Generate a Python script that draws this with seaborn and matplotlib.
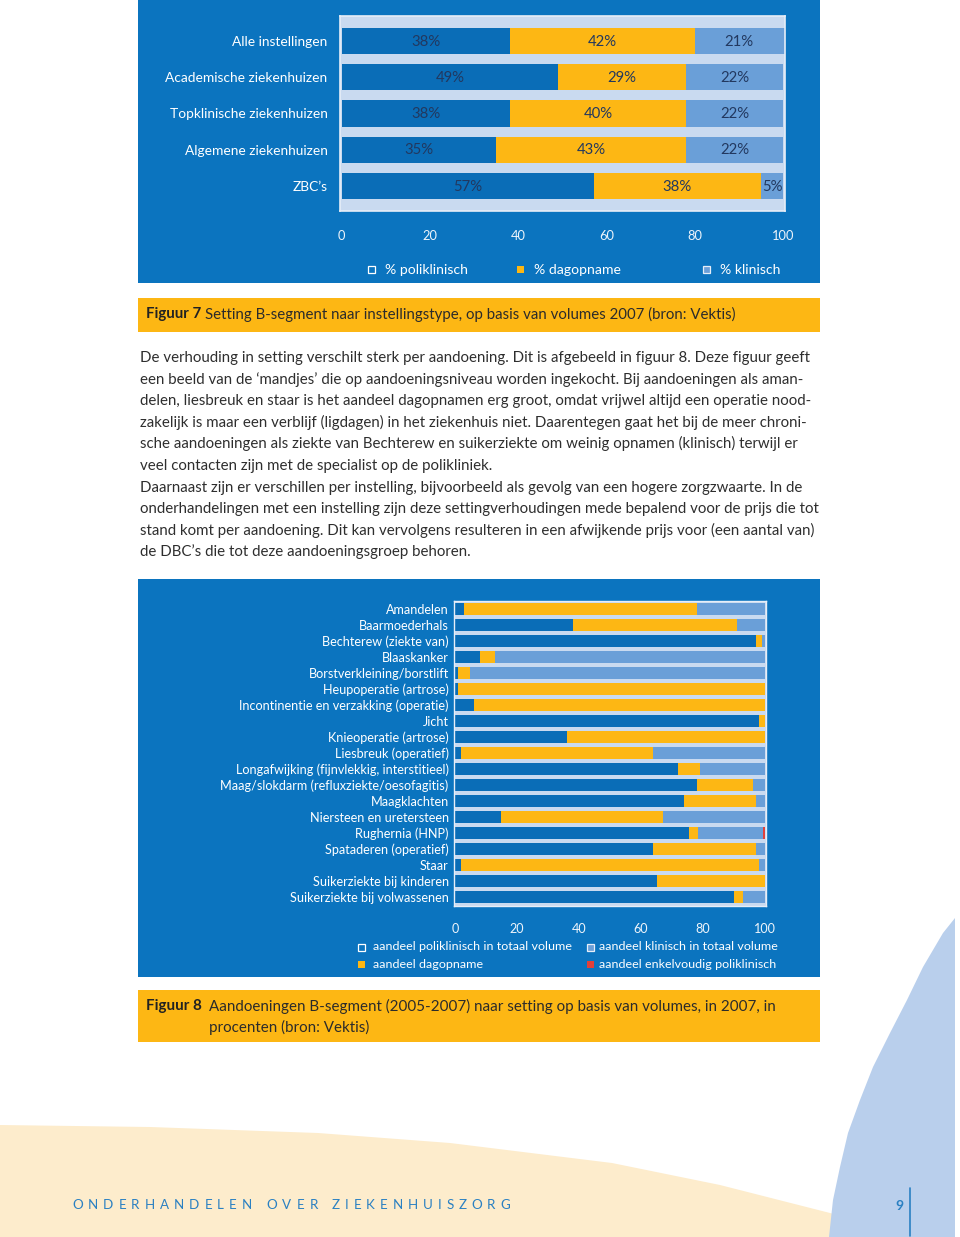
import numpy as np
import pandas as pd
import matplotlib
matplotlib.use("Agg")
import matplotlib.pyplot as plt
import seaborn as sns
from matplotlib.patches import Rectangle, Polygon

# ---------------- data ----------------
fig7_types = ["Alle instellingen", "Academische ziekenhuizen", "Topklinische ziekenhuizen",
              "Algemene ziekenhuizen", "ZBC\u2019s"]
fig7_poli = [38, 49, 38, 35, 57]
fig7_dag = [42, 29, 40, 43, 38]
fig7_klin = [21, 22, 22, 22, 5]
fig7_legend = ["% poliklinisch", "% dagopname", "% klinisch"]

fig8_cond = ["Amandelen", "Baarmoederhals", "Bechterew (ziekte van)", "Blaaskanker",
             "Borstverkleining/borstlift", "Heupoperatie (artrose)",
             "Incontinentie en verzakking (operatie)", "Jicht", "Knieoperatie (artrose)",
             "Liesbreuk (operatief)", "Longafwijking (fijnvlekkig, interstitieel)",
             "Maag/slokdarm (refluxziekte/oesofagitis)", "Maagklachten",
             "Niersteen en uretersteen", "Rughernia (HNP)", "Spataderen (operatief)",
             "Staar", "Suikerziekte bij kinderen", "Suikerziekte bij volwassenen"]
fig8_poli = [3, 38, 97, 8, 1, 1, 6, 98, 36, 2, 72, 78, 74, 15, 75.5, 64, 2, 65, 90]
fig8_dag = [75, 53, 2, 5, 4, 99, 94, 2, 64, 62, 7, 18, 23, 52, 3, 33, 96, 35, 3]
fig8_klin = [22, 9, 1, 87, 95, 0, 0, 0, 0, 36, 21, 4, 3, 33, 20.8, 3, 2, 0, 7]
fig8_enk = [0, 0, 0, 0, 0, 0, 0, 0, 0, 0, 0, 0, 0, 0, 0.7, 0, 0, 0, 0]
fig8_legend = ["aandeel poliklinisch in totaal volume", "aandeel klinisch in totaal volume",
               "aandeel dagopname", "aandeel enkelvoudig poliklinisch"]

tick_values = [0, 20, 40, 60, 80, 100]

body_lines = [
    "De verhouding in setting verschilt sterk per aandoening. Dit is afgebeeld in figuur 8. Deze figuur geeft",
    "een beeld van de \u2018mandjes\u2019 die op aandoeningsniveau worden ingekocht. Bij aandoeningen als aman-",
    "delen, liesbreuk en staar is het aandeel dagopnamen erg groot, omdat vrijwel altijd een operatie nood-",
    "zakelijk is maar een verblijf (ligdagen) in het ziekenhuis niet. Daarentegen gaat het bij de meer chroni-",
    "sche aandoeningen als ziekte van Bechterew en suikerziekte om weinig opnamen (klinisch) terwijl er",
    "veel contacten zijn met de specialist op de polikliniek.",
    "Daarnaast zijn er verschillen per instelling, bijvoorbeeld als gevolg van een hogere zorgzwaarte. In de",
    "onderhandelingen met een instelling zijn deze settingverhoudingen mede bepalend voor de prijs die tot",
    "stand komt per aandoening. Dit kan vervolgens resulteren in een afwijkende prijs voor (een aantal van)",
    "de DBC\u2019s die tot deze aandoeningsgroep behoren.",
]

# ---------------- style ----------------
PANEL = "#0b74bf"
POLI = "#0a6db7"
DAG = "#fdb714"
KLIN = "#6a9fd8"
ENK = "#e2403a"
PLOTBG = "#c9daf0"
LABEL = "#22385f"
TEXT = "#2e2e2e"
FOOT = "#2a80c2"

sns.set_style("white")
plt.rcParams["font.family"] = ["Lato", "DejaVu Sans"]

W, H = 960, 1237
fig = plt.figure(figsize=(W / 100, H / 100), dpi=100)
fig.patch.set_facecolor("white")
renderer = fig.canvas.get_renderer()


def fx(x):
    return x / W


def fy(y):
    return 1 - y / H


def rect(x0, y0, x1, y1, color, z=-5, ec="none", lw=0):
    r = Rectangle((fx(x0), fy(y1)), (x1 - x0) / W, (y1 - y0) / H, transform=fig.transFigure,
                  facecolor=color, edgecolor=ec, linewidth=lw, zorder=z)
    fig.add_artist(r)


def fit(text, target, weight="normal"):
    t = fig.text(0, 0, text, fontsize=10, weight=weight)
    w = t.get_window_extent(renderer=renderer).width
    t.remove()
    return 10 * target / w


def txt(x, y, s, size, color, weight="normal", ha="left", va="center"):
    return fig.text(fx(x), fy(y), s, fontsize=size, color=color, weight=weight, ha=ha, va=va)


# ---------------- footer decoration ----------------
cream = [(0, 1125), (150, 1127), (318, 1133), (450, 1143), (612, 1163), (720, 1185),
         (830, 1213), (860, 1222), (860, 1237), (0, 1237)]
fig.add_artist(Polygon([(fx(a), fy(b)) for a, b in cream], closed=True, transform=fig.transFigure,
                       facecolor="#fdeccc", edgecolor="none", zorder=-10))
arc = [(955, 918), (943, 933), (923, 967), (907, 1000), (890, 1033), (873, 1067), (860, 1100),
       (848, 1133), (840, 1167), (833, 1200), (829, 1237), (955, 1237)]
fig.add_artist(Polygon([(fx(a), fy(b)) for a, b in arc], closed=True, transform=fig.transFigure,
                       facecolor="#b9cfec", edgecolor="none", zorder=-9))

# ---------------- panels & captions ----------------
rect(138, 0, 820, 283, PANEL)
rect(138, 298, 820, 332, DAG)
rect(138, 579, 820, 977, PANEL)
rect(138, 990, 820, 1042, DAG)

# ---------------- figure 7 ----------------
ax7 = fig.add_axes([fx(340), fy(211), 445 / W, 195 / H])
ax7.set_facecolor(PLOTBG)
c7_all = np.array(fig7_poli) + np.array(fig7_dag) + np.array(fig7_klin)
c7_dag = np.array(fig7_poli) + np.array(fig7_dag)
for vals, col in [(c7_all, KLIN), (c7_dag, DAG), (np.array(fig7_poli), POLI)]:
    sns.barplot(x=vals, y=fig7_types, orient="h", color=col, saturation=1, width=0.72,
                linewidth=0, ax=ax7)
ax7.set_xlim(-0.4, 100.35)
ax7.set_ylim(4.69, -0.69)
ax7.set_xlabel("")
ax7.set_ylabel("")
ax7.set_xticks(range(0, 101, 10))
ax7.set_xticklabels([str(v) if v in tick_values else "" for v in range(0, 101, 10)])
ylab7 = fit("Academische ziekenhuizen", 162)
xt7 = fit("100", 22.5)
ax7.tick_params(axis="y", length=0, pad=9, labelsize=ylab7, labelcolor="white")
ax7.tick_params(axis="x", length=4, width=0.8, color="#b5cbe8", pad=10, labelsize=xt7,
                labelcolor="#eef4fb", direction="out")
for s in ax7.spines.values():
    s.set_color("#e6eef8")
    s.set_linewidth(1.2)
lab7 = fit("38%", 29)
for i in range(len(fig7_types)):
    starts = [0, fig7_poli[i], fig7_poli[i] + fig7_dag[i]]
    vals = [fig7_poli[i], fig7_dag[i], fig7_klin[i]]
    for s0, v in zip(starts, vals):
        e = min(s0 + v, 100)
        ax7.text((s0 + e) / 2, i + 0.02, f"{v}%", ha="center", va="center", fontsize=lab7,
                 color=LABEL)

# legend 7
leg7_size = fit("% poliklinisch", 83)
for (sx, tx), lab, col, ec in zip([(368, 385), (517, 534), (703, 720)], fig7_legend,
                                   [PANEL, DAG, KLIN], ["white", "none", "#e6eef8"]):
    rect(sx, 266, sx + 7, 273, col, z=5, ec=ec, lw=0.9 if ec != "none" else 0)
    txt(tx, 270, lab, leg7_size, "white")

# caption 7
cap_size = fit("Setting B-segment naar instellingstype, op basis van volumes 2007 (bron: Vektis)", 529)
txt(146, 314, "Figuur 7", cap_size, "#222222", weight="bold")
txt(205, 314, "Setting B-segment naar instellingstype, op basis van volumes 2007 (bron: Vektis)",
    cap_size, "#2b2b2b")

# ---------------- body text ----------------
body_size = fit(body_lines[0], 671)
for k, line in enumerate(body_lines):
    txt(140, 362 + k * 21.6, line, body_size, TEXT, va="baseline")

# ---------------- figure 8 ----------------
ax8 = fig.add_axes([fx(453.5), fy(906), 312.5 / W, 305 / H])
ax8.set_facecolor(PLOTBG)
p = np.array(fig8_poli)
d = np.array(fig8_dag)
k_ = np.array(fig8_klin)
e_ = np.array(fig8_enk)
for vals, col in [(p + d + k_ + e_, ENK), (p + d + k_, KLIN), (p + d, DAG), (p, POLI)]:
    sns.barplot(x=vals, y=fig8_cond, orient="h", color=col, saturation=1, width=0.71,
                linewidth=0, ax=ax8)
ax8.set_xlim(-0.48, 100.32)
ax8.set_ylim(18.56, -0.5)
ax8.set_xlabel("")
ax8.set_ylabel("")
ax8.set_xticks(range(0, 101, 10))
ax8.set_xticklabels([str(v) if v in tick_values else "" for v in range(0, 101, 10)])
ylab8 = fit("Maag/slokdarm (refluxziekte/oesofagitis)", 227)
xt8 = fit("100", 22)
ax8.tick_params(axis="y", length=0, pad=3.5, labelsize=ylab8, labelcolor="white")
ax8.tick_params(axis="x", length=4, width=0.8, color="#b5cbe8", pad=8, labelsize=xt8,
                labelcolor="#eef4fb", direction="out")
for s in ax8.spines.values():
    s.set_color("#e6eef8")
    s.set_linewidth(1.0)

# legend 8
leg8_size = fit(fig8_legend[0], 198)
for (sx, sy, tx), lab, col, ec in zip([(358, 947, 373), (587, 947, 599), (358, 964, 373), (587, 964, 599)],
                                       fig8_legend, [PANEL, KLIN, DAG, ENK],
                                       ["white", "#e6eef8", "none", "none"]):
    rect(sx, sy - 3.5, sx + 7, sy + 3.5, col, z=5, ec=ec, lw=0.9 if ec != "none" else 0)
    txt(tx, sy, lab, leg8_size, "white")

# caption 8
cap8_size = fit("Aandoeningen B-segment (2005-2007) naar setting op basis van volumes, in 2007, in", 564)
txt(146, 1006, "Figuur 8", cap8_size, "#222222", weight="bold")
txt(209, 1006, "Aandoeningen B-segment (2005-2007) naar setting op basis van volumes, in 2007, in",
    cap8_size, "#2b2b2b")
txt(209, 1027, "procenten (bron: Vektis)", cap8_size, "#2b2b2b")

# ---------------- footer text ----------------
foot_size = 9.6
for word, x0, x1 in [("ONDERHANDELEN", 72, 252), ("OVER", 266, 318), ("ZIEKENHUISZORG", 332, 510)]:
    widths = []
    for ch in word:
        t = fig.text(0, 0, ch, fontsize=foot_size)
        widths.append(t.get_window_extent(renderer=renderer).width)
        t.remove()
    track = ((x1 - x0) - sum(widths)) / (len(word) - 1)
    x = x0
    for ch, w in zip(word, widths):
        txt(x, 1205, ch, foot_size, FOOT)
        x += w + track

txt(903, 1206, "9", 10, FOOT, weight="bold", ha="right")
fig.add_artist(plt.Line2D([fx(910), fx(910)], [fy(1188), fy(1236)], transform=fig.transFigure,
                          color=FOOT, linewidth=1.2))

fig.savefig("out.png", dpi=100, facecolor="white")
